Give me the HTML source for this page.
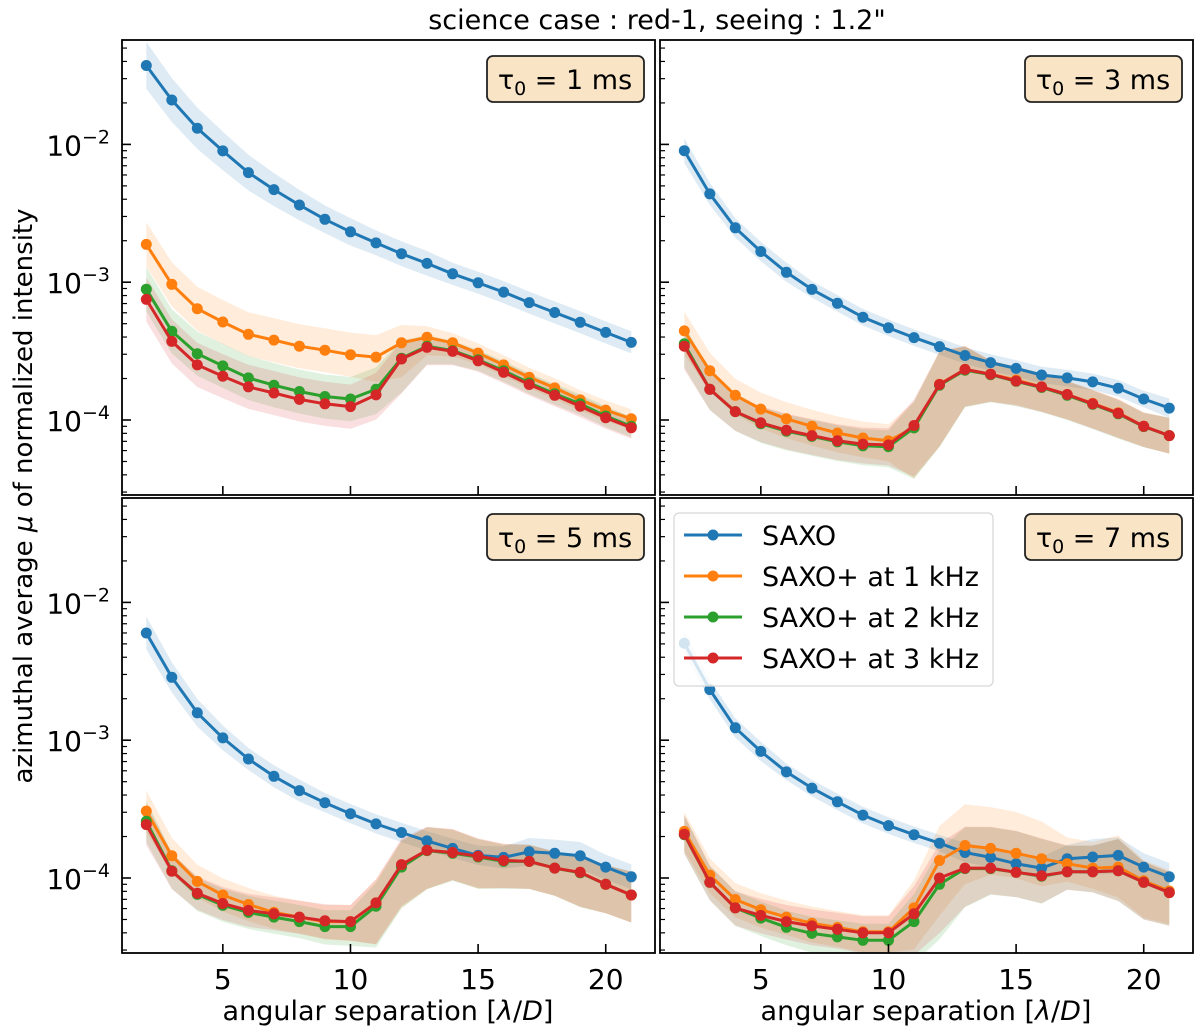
<!DOCTYPE html>
<html><head><meta charset="utf-8"><title>SAXO contrast curves</title>
<style>
html,body{margin:0;padding:0;background:#fff;}
svg{display:block;font-family:"DejaVu Sans","Liberation Sans",sans-serif;}
</style></head>
<body>
<svg id="fig" width="1200" height="1032" viewBox="0 0 1200 1032" xmlns="http://www.w3.org/2000/svg">
<text x="657" y="29" font-size="27" text-anchor="middle" fill="#000">science case : red-1, seeing : 1.2"</text>
<text x="0" y="0" font-size="26" text-anchor="middle" transform="translate(32,496) rotate(-90)">azimuthal average <tspan font-style="italic">μ</tspan> of normalized intensity</text>
<text x="388" y="1020" font-size="27" text-anchor="middle">angular separation [<tspan font-style="italic">λ</tspan>/<tspan font-style="italic">D</tspan>]</text>
<text x="926" y="1020" font-size="27" text-anchor="middle">angular separation [<tspan font-style="italic">λ</tspan>/<tspan font-style="italic">D</tspan>]</text>
</svg>
<script>
const xs = [2,3,4,5,6,7,8,9,10,11,12,13,14,15,16,17,18,19,20,21];
const xTicks = [5,10,15,20];
const yDecades = [-2,-3,-4];
const seriesNames = ["SAXO","SAXO+ at 1 kHz","SAXO+ at 2 kHz","SAXO+ at 3 kHz"];
const panelTitles = ["1","3","5","7"];

const p1Saxo = [3.74e-2,2.10e-2,1.31e-2,8.97e-3,6.24e-3,4.70e-3,3.63e-3,2.86e-3,2.32e-3,1.93e-3,1.61e-3,1.37e-3,1.15e-3,9.9e-4,8.47e-4,7.11e-4,6.03e-4,5.12e-4,4.32e-4,3.66e-4];
const p1Plus1k = [1.88e-3,9.66e-4,6.42e-4,5.14e-4,4.19e-4,3.80e-4,3.43e-4,3.21e-4,2.98e-4,2.86e-4,3.63e-4,3.98e-4,3.63e-4,3.06e-4,2.51e-4,2.04e-4,1.71e-4,1.40e-4,1.18e-4,1.02e-4];
const p1Plus2k = [8.9e-4,4.4e-4,3.03e-4,2.47e-4,2.02e-4,1.79e-4,1.61e-4,1.48e-4,1.42e-4,1.67e-4,2.81e-4,3.43e-4,3.19e-4,2.74e-4,2.28e-4,1.86e-4,1.55e-4,1.31e-4,1.07e-4,9.0e-5];
const p1Plus3k = [7.5e-4,3.72e-4,2.51e-4,2.08e-4,1.74e-4,1.57e-4,1.41e-4,1.31e-4,1.25e-4,1.52e-4,2.77e-4,3.37e-4,3.15e-4,2.69e-4,2.22e-4,1.81e-4,1.51e-4,1.26e-4,1.04e-4,8.8e-5];
const p1SaxoBand = [.17,.16,.15,.14,.13,.12,.11,.10,.10,.09,.09,.09,.08,.08,.08,.08,.08,.08,.08,.08];
const p1PlusHi = [.16,.16,.16,.16,.16,.16,.16,.16,.16,.16,.13,.08,.07,.07,.07,.07,.07,.07,.07,.07];
const p1PlusLo = [.16,.16,.16,.16,.16,.16,.16,.16,.16,.18,.25,.13,.1,.08,.08,.08,.08,.08,.08,.08];

const p2Saxo = [9.0e-3,4.37e-3,2.48e-3,1.67e-3,1.18e-3,8.87e-4,7.03e-4,5.57e-4,4.67e-4,3.96e-4,3.41e-4,2.94e-4,2.61e-4,2.37e-4,2.12e-4,2.02e-4,1.89e-4,1.70e-4,1.42e-4,1.22e-4];
const p2Plus1k = [4.43e-4,2.28e-4,1.51e-4,1.20e-4,1.02e-4,9.0e-5,8.05e-5,7.4e-5,7.07e-5,8.77e-5,1.82e-4,2.33e-4,2.15e-4,1.95e-4,1.74e-4,1.53e-4,1.32e-4,1.13e-4,9.0e-5,7.7e-5];
const p2Plus2k = [3.57e-4,1.67e-4,1.15e-4,9.4e-5,8.3e-5,7.6e-5,6.95e-5,6.5e-5,6.4e-5,8.77e-5,1.79e-4,2.30e-4,2.13e-4,1.91e-4,1.72e-4,1.51e-4,1.30e-4,1.11e-4,8.95e-5,7.7e-5];
const p2Plus3k = [3.43e-4,1.67e-4,1.15e-4,9.55e-5,8.43e-5,7.7e-5,7.07e-5,6.68e-5,6.6e-5,9.12e-5,1.81e-4,2.33e-4,2.15e-4,1.92e-4,1.74e-4,1.53e-4,1.31e-4,1.12e-4,9.0e-5,7.7e-5];
const p2SaxoBand = [.09,.08,.07,.07,.07,.06,.06,.06,.06,.06,.06,.06,.06,.06,.06,.06,.06,.06,.06,.07];
const p2PlusHi = [.14,.13,.12,.12,.12,.12,.12,.12,.12,.19,.24,.17,.1,.1,.1,.1,.1,.1,.1,.13];
const p2PlusLo = [.17,.15,.14,.14,.14,.14,.14,.14,.15,.37,.45,.27,.2,.18,.18,.18,.18,.18,.15,.13];

const p3Saxo = [6.0e-3,2.86e-3,1.58e-3,1.04e-3,7.31e-4,5.47e-4,4.31e-4,3.52e-4,2.93e-4,2.47e-4,2.14e-4,1.86e-4,1.64e-4,1.46e-4,1.41e-4,1.55e-4,1.51e-4,1.45e-4,1.20e-4,1.02e-4];
const p3Plus1k = [3.06e-4,1.45e-4,9.45e-5,7.53e-5,6.42e-5,5.63e-5,5.2e-5,4.83e-5,4.83e-5,6.6e-5,1.21e-4,1.58e-4,1.53e-4,1.42e-4,1.34e-4,1.32e-4,1.18e-4,1.10e-4,9.0e-5,7.53e-5];
const p3Plus2k = [2.58e-4,1.13e-4,7.6e-5,6.34e-5,5.63e-5,5.2e-5,4.83e-5,4.44e-5,4.44e-5,6.24e-5,1.20e-4,1.58e-4,1.51e-4,1.42e-4,1.32e-4,1.32e-4,1.18e-4,1.09e-4,9.0e-5,7.53e-5];
const p3Plus3k = [2.44e-4,1.12e-4,7.74e-5,6.53e-5,5.82e-5,5.5e-5,5.2e-5,4.89e-5,4.83e-5,6.6e-5,1.25e-4,1.59e-4,1.53e-4,1.44e-4,1.34e-4,1.32e-4,1.18e-4,1.10e-4,9.0e-5,7.53e-5];
const p3SaxoBand = [.12,.11,.1,.09,.08,.08,.08,.07,.07,.07,.07,.07,.07,.07,.08,.1,.1,.1,.09,.09];
const p3PlusHi = [.15,.13,.12,.12,.12,.12,.12,.12,.12,.17,.19,.17,.17,.13,.12,.12,.12,.12,.14,.17];
const p3PlusLo = [.15,.13,.12,.12,.12,.12,.12,.13,.14,.3,.3,.28,.2,.23,.2,.2,.2,.25,.21,.2];

const p4Saxo = [5.06e-3,2.33e-3,1.23e-3,8.3e-4,5.89e-4,4.49e-4,3.57e-4,2.86e-4,2.40e-4,2.06e-4,1.79e-4,1.53e-4,1.41e-4,1.27e-4,1.18e-4,1.38e-4,1.42e-4,1.46e-4,1.20e-4,1.02e-4];
const p4Plus1k = [2.18e-4,1.05e-4,6.98e-5,5.89e-5,5.2e-5,4.7e-5,4.37e-5,4.07e-5,4.07e-5,6.07e-5,1.34e-4,1.72e-4,1.64e-4,1.51e-4,1.38e-4,1.27e-4,1.18e-4,1.20e-4,9.55e-5,8.05e-5];
const p4Plus2k = [2.06e-4,9.3e-5,6.07e-5,5.12e-5,4.39e-5,3.96e-5,3.74e-5,3.53e-5,3.53e-5,4.83e-5,9.0e-5,1.17e-4,1.17e-4,1.10e-4,1.03e-4,1.11e-4,1.11e-4,1.13e-4,9.3e-5,7.83e-5];
const p4Plus3k = [2.08e-4,9.3e-5,6.07e-5,5.35e-5,4.83e-5,4.49e-5,4.24e-5,4.0e-5,4.0e-5,5.5e-5,1.0e-4,1.18e-4,1.18e-4,1.10e-4,1.04e-4,1.11e-4,1.11e-4,1.13e-4,9.3e-5,7.83e-5];
const p4SaxoBand = [.08,.07,.07,.07,.06,.06,.06,.06,.06,.06,.06,.07,.07,.07,.08,.1,.13,.13,.1,.1];
const p4PlusHi = [.14,.12,.12,.12,.12,.12,.12,.12,.12,.2,.25,.3,.3,.3,.27,.19,.19,.23,.15,.15];
const p4PlusLo = [.14,.13,.13,.13,.13,.14,.14,.15,.15,.3,.4,.28,.19,.18,.2,.13,.15,.22,.27,.24];

const colors = ["#1f77b4","#ff7f0e","#2ca02c","#d62728"];
const NS = "http://www.w3.org/2000/svg";
const svg = document.getElementById("fig");

const panels = [
  {left:122, top:40, tau:"1", series:[p1Saxo,p1Plus1k,p1Plus2k,p1Plus3k], bands:[[p1SaxoBand,p1SaxoBand],[p1PlusHi,p1PlusLo]], ylab:true, xlab:false, legend:false},
  {left:660, top:40, tau:"3", series:[p2Saxo,p2Plus1k,p2Plus2k,p2Plus3k], bands:[[p2SaxoBand,p2SaxoBand],[p2PlusHi,p2PlusLo]], ylab:false, xlab:false, legend:false},
  {left:122, top:498, tau:"5", series:[p3Saxo,p3Plus1k,p3Plus2k,p3Plus3k], bands:[[p3SaxoBand,p3SaxoBand],[p3PlusHi,p3PlusLo]], ylab:true, xlab:true, legend:false},
  {left:660, top:498, tau:"7", series:[p4Saxo,p4Plus1k,p4Plus2k,p4Plus3k], bands:[[p4SaxoBand,p4SaxoBand],[p4PlusHi,p4PlusLo]], ylab:false, xlab:true, legend:true}
];
const PW = 533, PH = 455;
const XMIN = 1.05, XMAX = 21.93;
const DEC = 137.8, Y2 = 104.4;

function mk(tag, attrs, parent){
  const e = document.createElementNS(NS, tag);
  for (const k in attrs) e.setAttribute(k, attrs[k]);
  (parent||svg).appendChild(e);
  return e;
}

panels.forEach((p, pi) => {
  const xS = v => p.left + (v - XMIN) / (XMAX - XMIN) * PW;
  const yS = v => p.top + Y2 + (-2 - Math.log10(v)) * DEC;
  const g = mk("g", {});
  
  
  const cid = "clip" + pi;
  const cp = mk("clipPath", {id: cid}, g);
  mk("rect", {x:p.left, y:p.top, width:PW, height:PH}, cp);
  const plot = mk("g", {"clip-path":"url(#"+cid+")"}, g);

  p.series.forEach((s, si) => {
    const b = si === 0 ? p.bands[0] : p.bands[1];
    const hi = b[0], lo = b[1];
    let pts = [];
    xs.forEach((x, i) => pts.push(xS(x).toFixed(1) + "," + (yS(s[i]) - hi[i]*DEC).toFixed(1)));
    for (let i = xs.length - 1; i >= 0; i--) pts.push(xS(xs[i]).toFixed(1) + "," + (yS(s[i]) + lo[i]*DEC).toFixed(1));
    const poly = mk("polygon", {points: pts.join(" "), fill: colors[si], "fill-opacity": 0.15, stroke: "none"}, plot);
    
    
  });
  p.series.forEach((s, si) => {
    const sg = mk("g", {}, plot);
    
    
    const pts = xs.map((x, i) => xS(x).toFixed(1) + "," + yS(s[i]).toFixed(1)).join(" ");
    mk("polyline", {points: pts, fill: "none", stroke: colors[si], "stroke-width": 3, "stroke-linejoin": "round"}, sg);
    xs.forEach((x, i) => {
      const c = mk("circle", {cx: xS(x).toFixed(1), cy: yS(s[i]).toFixed(1), r: 5.5, fill: colors[si]}, sg);
      
      
    });
  });
  const fr = mk("rect", {x:p.left, y:p.top, width:PW, height:PH, fill:"none", stroke:"#000", "stroke-width":1.8}, g);
  
  
  xTicks.forEach(t => {
    const x = xS(t);
    mk("line", {x1:x, x2:x, y1:p.top+PH, y2:p.top+PH-9, stroke:"#000", "stroke-width":1.6}, g);
    if (p.xlab) {
      const tl = mk("text", {x:x, y:p.top+PH+36, "font-size":28, "text-anchor":"middle"}, g);
      tl.textContent = String(t);
      
      
    }
  });
  for (let e = -5; e <= -1; e++) {
    for (let m = 1; m <= 9; m++) {
      const v = m * Math.pow(10, e);
      const y = yS(v);
      if (y < p.top + 1 || y > p.top + PH - 1) continue;
      const len = m === 1 ? 9 : 5;
      mk("line", {x1:p.left, x2:p.left+len, y1:y, y2:y, stroke:"#000", "stroke-width": m===1?1.6:1.2}, g);
    }
  }
  if (p.ylab) {
    yDecades.forEach(d => {
      const y = yS(Math.pow(10, d));
      const tl = mk("text", {x:p.left-12, y:y+11, "font-size":28, "text-anchor":"end"}, g);
      
      
      const t1 = mk("tspan", {}, tl); t1.textContent = "10";
      const t2 = mk("tspan", {dy:-12, "font-size":19}, tl); t2.textContent = "−" + String(-d);
    });
  }
  const tb = mk("g", {}, g);
  
  
  mk("rect", {x:p.left+365, y:p.top+16, width:157, height:46, rx:6, fill:"#f9e5c6", stroke:"#222", "stroke-width":1.8}, tb);
  const tt = mk("text", {x:p.left+443, y:p.top+49, "font-size":27, "text-anchor":"middle"}, tb);
  const a = mk("tspan", {}, tt); a.textContent = "τ";
  const b2 = mk("tspan", {dy:6, "font-size":19}, tt); b2.textContent = "0";
  const c2 = mk("tspan", {dy:-6}, tt); c2.textContent = " = " + p.tau + " ms";

  if (p.legend) {
    const lg = mk("g", {}, g);
    
    
    mk("rect", {x:p.left+14, y:p.top+15, width:319, height:173, rx:5, fill:"#fff", "fill-opacity":0.8, stroke:"#d6d6d6", "stroke-width":1.2}, lg);
    seriesNames.forEach((n, i) => {
      const ey = p.top + 37 + i * 41;
      const le = mk("g", {}, lg);
      
      
      mk("line", {x1:p.left+24, x2:p.left+82, y1:ey, y2:ey, stroke:colors[i], "stroke-width":3}, le);
      mk("circle", {cx:p.left+53, cy:ey, r:5.5, fill:colors[i]}, le);
      const lt = mk("text", {x:p.left+102, y:ey+10, "font-size":27}, le);
      lt.textContent = n;
    });
  }
});
</script>
</body></html>
